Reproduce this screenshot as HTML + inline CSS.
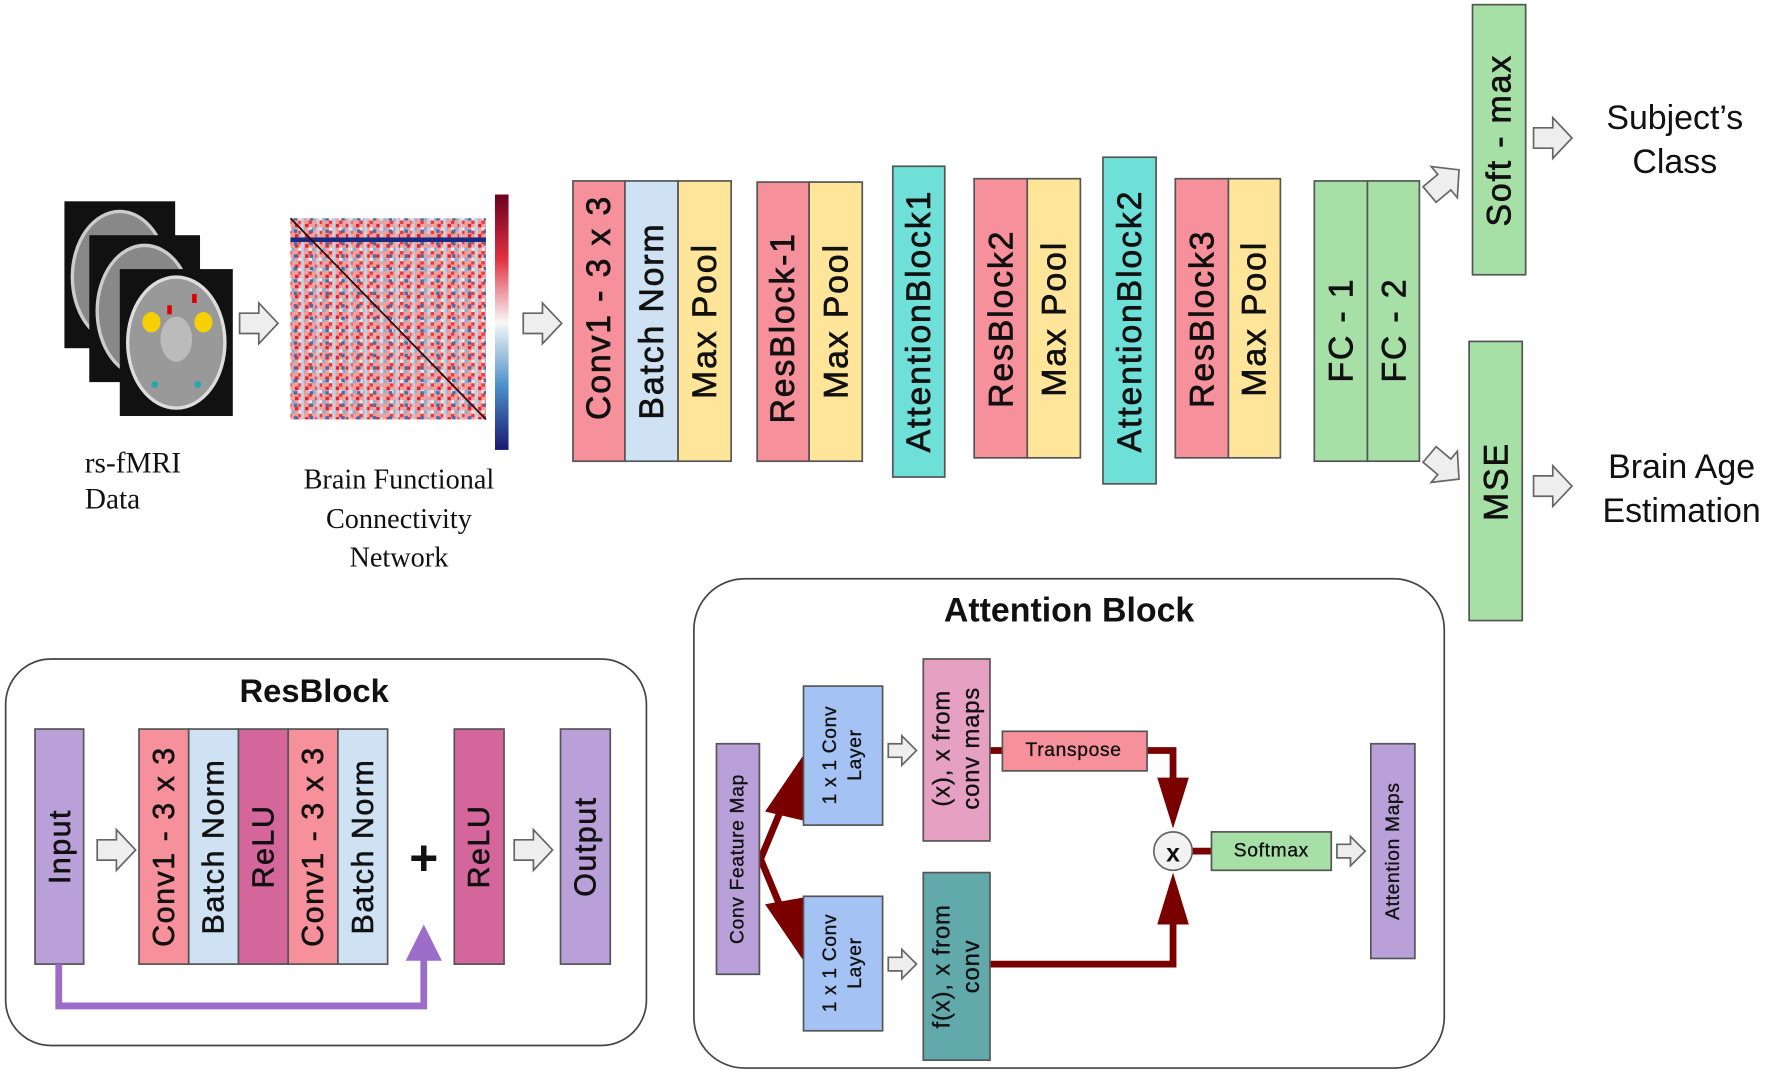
<!DOCTYPE html>
<html><head><meta charset="utf-8"><style>
html,body{margin:0;padding:0;background:#fff;}
svg{display:block;}
text{font-family:"Liberation Sans",sans-serif;fill:#111;}
.s{font-family:"Liberation Serif",serif;}
.b{stroke:#555;stroke-width:1.5;}
.v{font-size:30px;stroke:#111;stroke-width:0.6;letter-spacing:1.6px;}
.r{font-size:27px;stroke:#111;stroke-width:0.5;letter-spacing:1.3px;}
.a{font-size:17px;stroke:#111;stroke-width:0.3;letter-spacing:0.6px;}
</style></head><body>
<svg width="1772" height="1075" viewBox="0 0 1568 951" xmlns="http://www.w3.org/2000/svg">
<defs>
<path id="ar" d="M0,-9 H17 V-18 L34,0 L17,18 V9 H0 Z" fill="#eee" stroke="#666" stroke-width="1.5"/>
<path id="ars" d="M0,-6 H12 V-13 L25,0 L12,13 V6 H0 Z" fill="#eee" stroke="#666" stroke-width="1.5"/>
<pattern id="p1" width="9" height="9" patternUnits="userSpaceOnUse"><rect width="9" height="9" fill="#f4a09a"/><rect x="0" y="0" width="3" height="3" fill="#d8243a"/><rect x="6" y="3" width="3" height="3" fill="#7fb2d8"/><rect x="3" y="6" width="3" height="3" fill="#e33a4a"/><rect x="3" y="3" width="3" height="3" fill="#fbe3e0"/></pattern>
<pattern id="p2" width="14" height="11" patternUnits="userSpaceOnUse"><rect x="0" y="0" width="3" height="11" fill="#c8e0f0" opacity="0.7"/><rect x="8" y="5" width="3" height="3" fill="#3a6fb0"/></pattern>
<linearGradient id="cb" x1="0" y1="0" x2="0" y2="1"><stop offset="0" stop-color="#6a0020"/><stop offset="0.25" stop-color="#e03040"/><stop offset="0.5" stop-color="#f7f7f7"/><stop offset="0.75" stop-color="#4a90c8"/><stop offset="1" stop-color="#1a1a70"/></linearGradient>
</defs>
<g>
<rect x="57" y="178" width="98" height="130" fill="#111"/><ellipse cx="106" cy="245" rx="42" ry="58" fill="#888" stroke="#ccc" stroke-width="3"/>
<rect x="79" y="208" width="98" height="130" fill="#111"/><ellipse cx="128" cy="275" rx="42" ry="58" fill="#888" stroke="#ccc" stroke-width="3"/>
<rect x="106" y="238" width="100" height="130" fill="#111"/><ellipse cx="156" cy="303" rx="43" ry="58" fill="#999" stroke="#ddd" stroke-width="3"/>
<ellipse cx="156" cy="300" rx="14" ry="20" fill="#bbb"/>
<ellipse cx="134" cy="285" rx="8" ry="9" fill="#f6d000"/><ellipse cx="180" cy="285" rx="8" ry="9" fill="#f6d000"/>
<rect x="148" y="270" width="4" height="8" fill="#d00"/><rect x="170" y="260" width="4" height="8" fill="#d00"/>
<circle cx="137" cy="340" r="3" fill="#2aa"/><circle cx="175" cy="340" r="3" fill="#2aa"/>
</g>
<text class="s" x="75" y="418" font-size="26">rs-fMRI</text>
<text class="s" x="75" y="450" font-size="26">Data</text>
<rect x="257" y="193" width="173" height="178" fill="url(#p1)"/>
<rect x="257" y="193" width="173" height="178" fill="url(#p2)"/>
<rect x="257" y="210" width="173" height="4" fill="#1a2a80"/>
<line x1="257" y1="193" x2="430" y2="371" stroke="#300" stroke-width="1.5"/>
<rect x="438" y="172" width="12" height="226" fill="url(#cb)"/>
<text class="s" x="353" y="432" font-size="25" text-anchor="middle">Brain Functional</text>
<text class="s" x="353" y="467" font-size="25" text-anchor="middle">Connectivity</text>
<text class="s" x="353" y="501" font-size="25" text-anchor="middle">Network</text>
<use href="#ar" x="212" y="286"/>
<use href="#ar" x="463" y="286"/>
<g class="b">
<rect x="507" y="160" width="46" height="248" fill="#f6909a"/>
<rect x="553" y="160" width="47" height="248" fill="#cfe2f3"/>
<rect x="600" y="160" width="47" height="248" fill="#ffe599"/>
<rect x="670" y="161" width="46" height="247" fill="#f6909a"/>
<rect x="716" y="161" width="47" height="247" fill="#ffe599"/>
<rect x="790" y="147" width="46" height="275" fill="#6fe0d8"/>
<rect x="862" y="158" width="47" height="247" fill="#f6909a"/>
<rect x="909" y="158" width="47" height="247" fill="#ffe599"/>
<rect x="976" y="139" width="47" height="289" fill="#6fe0d8"/>
<rect x="1040" y="158" width="47" height="247" fill="#f6909a"/>
<rect x="1087" y="158" width="46" height="247" fill="#ffe599"/>
<rect x="1163" y="160" width="47" height="248" fill="#a6e0a6"/>
<rect x="1210" y="160" width="46" height="248" fill="#a6e0a6"/>
<rect x="1303" y="4" width="47" height="239" fill="#a6e0a6"/>
<rect x="1300" y="302" width="47" height="247" fill="#a6e0a6"/>
</g>
<g class="v" text-anchor="middle" dominant-baseline="central">
<text transform="translate(530,272) rotate(-90)">Conv1 - 3 x 3</text>
<text transform="translate(577,284) rotate(-90)">Batch Norm</text>
<text transform="translate(624,284) rotate(-90)">Max Pool</text>
<text transform="translate(693,290) rotate(-90)">ResBlock-1</text>
<text transform="translate(740,284) rotate(-90)">Max Pool</text>
<text transform="translate(813,284) rotate(-90)">AttentionBlock1</text>
<text transform="translate(886,282) rotate(-90)">ResBlock2</text>
<text transform="translate(933,282) rotate(-90)">Max Pool</text>
<text transform="translate(1000,284) rotate(-90)">AttentionBlock2</text>
<text transform="translate(1064,282) rotate(-90)">ResBlock3</text>
<text transform="translate(1110,282) rotate(-90)">Max Pool</text>
<text transform="translate(1187,292) rotate(-90)">FC - 1</text>
<text transform="translate(1234,292) rotate(-90)">FC - 2</text>
<text transform="translate(1327,124) rotate(-90)">Soft - max</text>
<text transform="translate(1324,426) rotate(-90)">MSE</text>
</g>
<use href="#ar" transform="translate(1265,172) rotate(-40)"/>
<use href="#ar" transform="translate(1265,402) rotate(40)"/>
<use href="#ar" x="1357" y="122"/>
<use href="#ar" x="1357" y="430"/>
<g font-size="30" text-anchor="middle">
<text x="1482" y="114">Subject’s</text>
<text x="1482" y="153">Class</text>
<text x="1488" y="423">Brain Age</text>
<text x="1488" y="462">Estimation</text>
</g>
<rect x="5" y="583" width="567" height="342" rx="40" fill="none" stroke="#444" stroke-width="1.5"/>
<text x="278" y="621" font-size="29" font-weight="bold" text-anchor="middle">ResBlock</text>
<g class="b">
<rect x="31" y="645" width="43" height="208" fill="#b9a0d8"/>
<rect x="123" y="645" width="44" height="208" fill="#f6909a"/>
<rect x="167" y="645" width="44" height="208" fill="#cfe2f3"/>
<rect x="211" y="645" width="44" height="208" fill="#d5669c"/>
<rect x="255" y="645" width="44" height="208" fill="#f6909a"/>
<rect x="299" y="645" width="44" height="208" fill="#cfe2f3"/>
<rect x="402" y="645" width="44" height="208" fill="#d5669c"/>
<rect x="496" y="645" width="44" height="208" fill="#b9a0d8"/>
</g>
<g class="r" text-anchor="middle" dominant-baseline="central">
<text transform="translate(53,749) rotate(-90)">Input</text>
<text transform="translate(145,749) rotate(-90)">Conv1 - 3 x 3</text>
<text transform="translate(189,749) rotate(-90)">Batch Norm</text>
<text transform="translate(233,749) rotate(-90)">ReLU</text>
<text transform="translate(277,749) rotate(-90)">Conv1 - 3 x 3</text>
<text transform="translate(321,749) rotate(-90)">Batch Norm</text>
<text transform="translate(424,749) rotate(-90)">ReLU</text>
<text transform="translate(518,749) rotate(-90)">Output</text>
</g>
<use href="#ar" x="86" y="752"/>
<use href="#ar" x="455" y="752"/>
<text x="375" y="774" font-size="44" font-weight="bold" text-anchor="middle">+</text>
<polyline points="52,853 52,890 375,890 375,848" fill="none" stroke="#9b6cc8" stroke-width="6"/>
<polygon points="359,850 391,850 375,818" fill="#9b6cc8"/>
<rect x="614" y="512" width="664" height="433" rx="45" fill="none" stroke="#444" stroke-width="1.5"/>
<text x="946" y="550" font-size="30" font-weight="bold" text-anchor="middle">Attention Block</text>
<g fill="none" stroke="#7a0000" stroke-width="6">
<polyline points="700,695 673,760 700,825"/>
<polyline points="876,664 887,664"/>
<polyline points="1015,664 1038,664 1038,700"/>
<polyline points="876,853 1038,853 1038,800"/>
<line x1="1055" y1="753" x2="1072" y2="753"/>
</g>
<polygon points="677,718 711,668 711,726" fill="#7a0000"/>
<polygon points="677,800 711,850 711,794" fill="#7a0000"/>
<polygon points="1024,688 1052,688 1038,733" fill="#7a0000"/>
<polygon points="1024,818 1052,818 1038,772" fill="#7a0000"/>
<g class="b">
<rect x="634" y="658" width="38" height="204" fill="#b9a0d8"/>
<rect x="711" y="607" width="70" height="123" fill="#a4c2f4"/>
<rect x="711" y="793" width="70" height="119" fill="#a4c2f4"/>
<rect x="817" y="583" width="59" height="161" fill="#e5a0c2"/>
<rect x="817" y="772" width="59" height="166" fill="#62a9ac"/>
<rect x="887" y="647" width="128" height="35" fill="#f6909a"/>
<rect x="1072" y="736" width="106" height="34" fill="#a6e0a6"/>
<rect x="1213" y="658" width="39" height="190" fill="#b9a0d8"/>
</g>
<circle cx="1038" cy="753" r="17" fill="#f2f2f2" stroke="#666" stroke-width="1.5"/>
<text x="1038" y="762" font-size="22" font-weight="bold" text-anchor="middle">x</text>
<use href="#ars" x="786" y="664"/>
<use href="#ars" x="786" y="853"/>
<use href="#ars" x="1183" y="753"/>
<g class="a" text-anchor="middle" dominant-baseline="central">
<text transform="translate(653,760) rotate(-90)">Conv Feature Map</text>
<text transform="translate(735,668) rotate(-90)">1 x 1 Conv</text>
<text transform="translate(757,668) rotate(-90)">Layer</text>
<text transform="translate(735,852) rotate(-90)">1 x 1 Conv</text>
<text transform="translate(757,852) rotate(-90)">Layer</text>
<text transform="translate(950,664)">Transpose</text>
<text transform="translate(1125,753)">Softmax</text>
<text transform="translate(1233,753) rotate(-90)">Attention Maps</text>
</g>
<g font-size="21" text-anchor="middle" dominant-baseline="central" stroke="#111" stroke-width="0.3" letter-spacing="0.8">
<text transform="translate(834,662) rotate(-90)">(x), x from</text>
<text transform="translate(860,662) rotate(-90)">conv maps</text>
<text transform="translate(834,855) rotate(-90)">f(x), x from</text>
<text transform="translate(860,855) rotate(-90)">conv</text>
</g>
</svg>
</body></html>
